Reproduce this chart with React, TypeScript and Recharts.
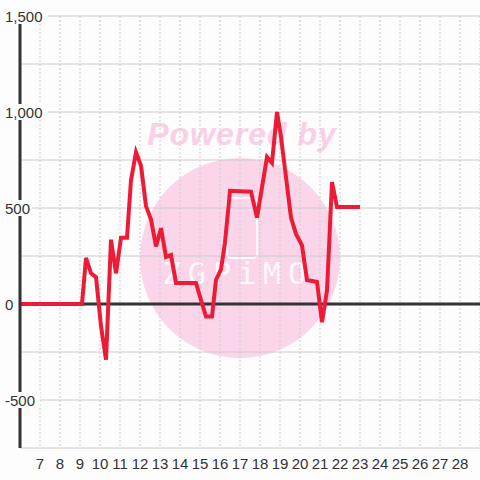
import React from "react";
import { LineChart, Line, XAxis, YAxis, CartesianGrid, ReferenceLine } from "recharts";

// hour of day (x) and value (y)
const hours = [
  6, 9.1, 9.3, 9.55, 9.8, 10.05, 10.3, 10.55, 10.8, 11.05, 11.35, 11.55, 11.8, 12.05, 12.3,
  12.55, 12.8, 13.05, 13.3, 13.55, 13.8, 14.8, 15.05, 15.3, 15.6, 15.8, 16.05, 16.25, 16.5,
  17.55, 17.85, 18.35, 18.6, 18.85, 19.05, 19.3, 19.55, 19.8, 20.1, 20.35, 20.85, 21.1, 21.35,
  21.6, 21.85, 23,
];
const values = [
  0, 0, 240, 160, 140, -115, -290, 335, 160, 345, 345, 645, 790, 720, 510,
  440, 300, 395, 245, 255, 110, 110, 20, -65, -65, 125, 180, 320, 590,
  585, 450, 765, 735, 1000, 870, 660, 450, 365, 305, 125, 115, -95, 70,
  635, 505, 505,
];

const xTicks = [7, 8, 9, 10, 11, 12, 13, 14, 15, 16, 17, 18, 19, 20, 21, 22, 23, 24, 25, 26, 27, 28];
const yTicks = [-750, -500, -250, 0, 250, 500, 750, 1000, 1250, 1500];
const yLabels = [-500, 0, 500, 1000, 1500];

const data = hours.map((h, i) => ({ h, v: values[i] }));

const FONT = "'Liberation Sans', Arial, sans-serif";

const YTick = (props: any) => {
  const { y, payload } = props;
  const val = payload.value;
  if (!yLabels.includes(val)) return <g />;
  const label = val.toLocaleString("en-US");
  const w = label.length * 8 + 4;
  return (
    <g>
      <rect x={4} y={y - 8} width={w} height={16} fill="#fdfdfd" />
      <text x={5} y={y} dominantBaseline="central" textAnchor="start" fontSize={15} fill="#333" fontFamily={FONT}>
        {label}
      </text>
    </g>
  );
};

const XTick = (props: any) => {
  const { x, payload } = props;
  return (
    <text x={x} y={463} dominantBaseline="central" textAnchor="middle" fontSize={15} fill="#333" fontFamily={FONT}>
      {payload.value}
    </text>
  );
};

// faint watermark sitting behind the grid
const Watermark = () => (
  <svg width={480} height={480} style={{ position: "absolute", left: 0, top: 0 }}>
    <rect x={0} y={0} width={480} height={480} fill="#fdfdfd" />
    <circle cx={240} cy={258} r={100} fill="#fbd6ea" />
    <text x={242} y={145} textAnchor="middle" fontSize={32} fontWeight="bold" fontStyle="italic" fill="#fbd0e6" fontFamily={FONT} letterSpacing={1}>
      Powered by
    </text>
    <rect x={227} y={198} width={30} height={60} rx={4} fill="none" stroke="#ffffff" strokeWidth={2} opacity={0.85} />
    <text x={238} y={284} textAnchor="middle" fontSize={30} fill="#ffffff" opacity={0.85} fontFamily="'DejaVu Sans Mono', monospace" letterSpacing={7}>
      ZGPiMO
    </text>
  </svg>
);

export default function App() {
  return (
    <div style={{ position: "fixed", left: 0, top: 0, width: 480, height: 480 }}>
      <Watermark />
      <div style={{ position: "absolute", left: 0, top: 0 }}>
        <LineChart width={480} height={480} data={data} margin={{ top: 16, right: 0, bottom: 0, left: 0 }}>
          <CartesianGrid horizontal vertical={false} stroke="#cccccc" strokeWidth={1} />
          <CartesianGrid horizontal={false} vertical stroke="#cccccc" strokeDasharray="2 2" />
          <XAxis
            dataKey="h"
            type="number"
            domain={[6, 29]}
            ticks={xTicks}
            interval={0}
            height={32}
            axisLine={false}
            tickLine={false}
            tick={(p: any) => <XTick {...p} />}
            allowDataOverflow
          />
          <YAxis
            type="number"
            domain={[-750, 1500]}
            ticks={yTicks}
            interval={0}
            width={20}
            axisLine={{ stroke: "#333", strokeWidth: 3 }}
            tickLine={false}
            tick={(p: any) => <YTick {...p} />}
            allowDataOverflow
          />
          <ReferenceLine y={0} stroke="#333" strokeWidth={3} />
          <Line
            type="linear"
            dataKey="v"
            stroke="#ec1c36"
            strokeWidth={4}
            dot={false}
            activeDot={false}
            isAnimationActive={false}
          />
        </LineChart>
      </div>
    </div>
  );
}
